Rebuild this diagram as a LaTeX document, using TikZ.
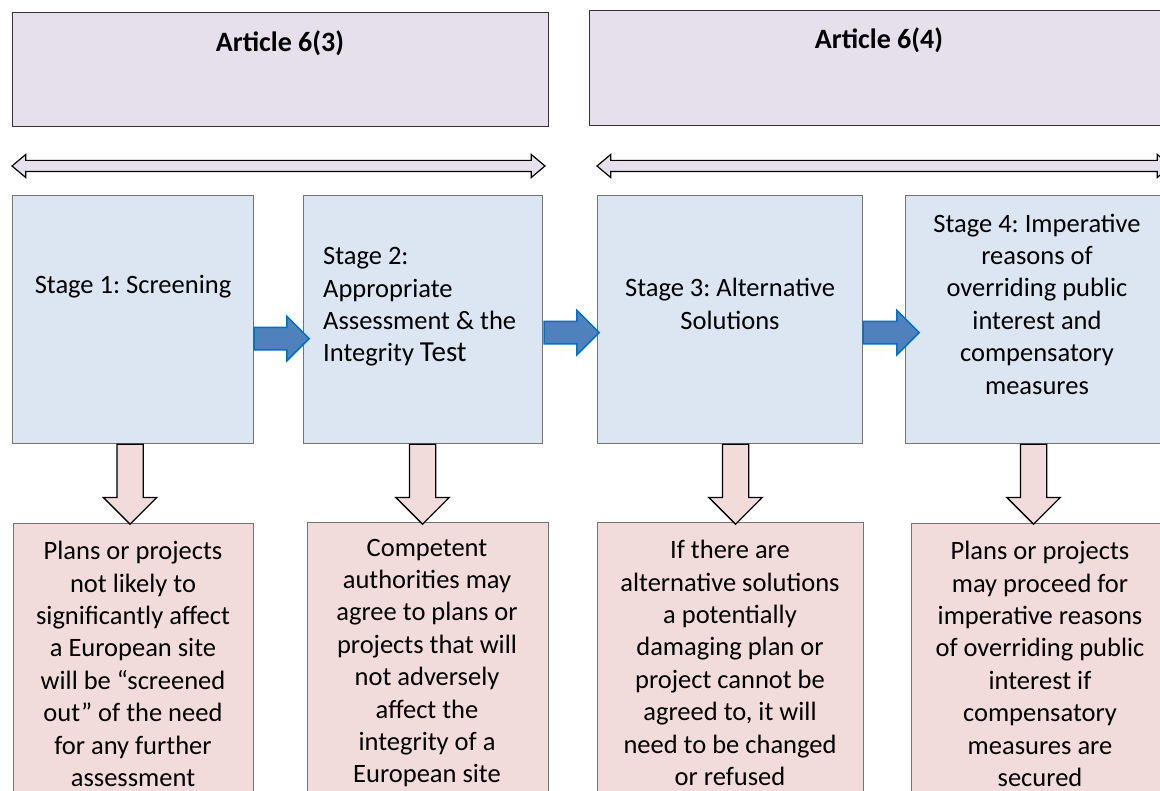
\documentclass[tikz,border=0pt]{standalone}
\usepackage{fontspec}
\setmainfont{Carlito}
\frenchspacing
\usetikzlibrary{shapes,arrows,calc}
\definecolor{artfill}{HTML}{E5E0EC}
\definecolor{stagefill}{HTML}{DCE6F2}
\definecolor{outfill}{HTML}{F2DCDB}
\definecolor{flowfill}{HTML}{4F81BD}
\definecolor{flowline}{HTML}{0070C0}
\tikzstyle{article} = [draw=black!80, fill=artfill, rectangle, anchor=north west,
    line width=1.3pt, inner sep=0pt]
\tikzstyle{stage} = [draw=black!55, fill=stagefill, rectangle, anchor=north west,
    minimum height=248pt, line width=1.2pt, inner sep=0pt]
\tikzstyle{outcome} = [draw=black!55, fill=outfill, rectangle, anchor=north west,
    minimum height=300pt, line width=1.2pt, inner sep=0pt]
\tikzstyle{txt} = [font=\fontsize{26.5}{32.4}\selectfont, align=center, inner sep=0pt]
\tikzstyle{title} = [font=\fontsize{28}{34}\selectfont\bfseries, inner sep=0pt]
\tikzstyle{span} = [double arrow, draw=black, fill=artfill, line width=1.2pt,
    inner xsep=0pt, inner ysep=5pt, double arrow head extend=6pt,
    double arrow tip angle=80]
\tikzstyle{flow} = [single arrow, draw=flowline, fill=flowfill, line width=1.5pt,
    anchor=tail, outer sep=0pt, inner xsep=0pt, inner ysep=10.5pt,
    single arrow head extend=11pt, minimum height=55pt]
\tikzstyle{drop} = [single arrow, draw=black, fill=outfill, line width=1.3pt,
    rotate=-90, anchor=tail, outer sep=0pt, inner xsep=0pt, inner ysep=12.5pt,
    single arrow head extend=13.5pt, minimum height=80pt]

\begin{document}
\begin{tikzpicture}[x=1pt, y=-1pt]
    \clip (0,0) rectangle (1160,791);
    % The two article headers
    \node [article, minimum width=536pt, minimum height=114pt] (art3) at (12,12) {};
    \node [article, minimum width=600pt, minimum height=115pt] (art4) at (589,10) {};
    \node [title] (art3text) at (280,43) {Article 6(3)};
    \node [title] (art4text) at (879,40) {Article 6(4)};

    % Span arrows under the headers
    \node [span, minimum height=533pt] (span3) at (278.5,166) {};
    \node [span, minimum height=574pt] (span4) at (884,166) {};

    % We place the stage blocks
    \node [stage, minimum width=241pt] (s1) at (12,195) {};
    \node [stage, minimum width=239pt] (s2) at (303,195) {};
    \node [stage, minimum width=265pt] (s3) at (597,195) {};
    \node [stage, minimum width=300pt] (s4) at (905,195) {};
    \node [txt] (s1text) at (133,287) {Stage 1: Screening};
    \node [txt, align=left, anchor=west] (s2text) at (323,307)
        {Stage 2:\\Appropriate\\Assessment \& the\\Integrity {\fontsize{29}{32.4}\selectfont Test}};
    \node [txt] (s3text) at (730,304) {Stage 3: Alternative\\Solutions};
    \node [txt] (s4text) at (1037,304)
        {Stage 4: Imperative\\reasons of\\overriding public\\interest and\\compensatory\\measures};

    % Outcome blocks, cut off at the bottom
    \node [outcome, minimum width=240pt] (o1) at (13,523) {};
    \node [outcome, minimum width=241pt] (o2) at (307,522) {};
    \node [outcome, minimum width=266pt] (o3) at (597,522) {};
    \node [outcome, minimum width=300pt] (o4) at (911,523) {};
    \node [txt] (o1text) at (133,664)
        {Plans or projects\\not likely to\\significantly affect\\a European site\\will be “screened\\out” of the need\\for any further\\assessment};
    \node [txt] (o2text) at (427,663)
        {Competent\\authorities may\\agree to plans or\\projects that will\\not adversely\\affect the\\integrity of a\\European site};
    \node [txt] (o3text) at (730,663)
        {If there are\\alternative solutions\\a potentially\\damaging plan or\\project cannot be\\agreed to, it will\\need to be changed\\or refused};
    \node [txt] (o4text) at (1040,664)
        {Plans or projects\\may proceed for\\imperative reasons\\of overriding public\\interest if\\compensatory\\measures are\\secured};

    % Arrows from stage to stage
    \node [flow] (f12) at ($(s1.east)+(0,19)$) {};
    \node [flow] (f23) at ($(s2.east)+(1,13)$) {};
    \node [flow, minimum height=56pt] (f34) at ($(s3.east)+(0,13)$) {};

    % Arrows from stage to outcome
    \node [drop] (d1) at ($(s1.south)+(-3,0)$) {};
    \node [drop] (d2) at ($(s2.south)+(-0.5,0)$) {};
    \node [drop] (d3) at ($(s3.south)+(5.5,0)$) {};
    \node [drop] (d4) at ($(s4.south)+(-22,0)$) {};
\end{tikzpicture}
\end{document}
